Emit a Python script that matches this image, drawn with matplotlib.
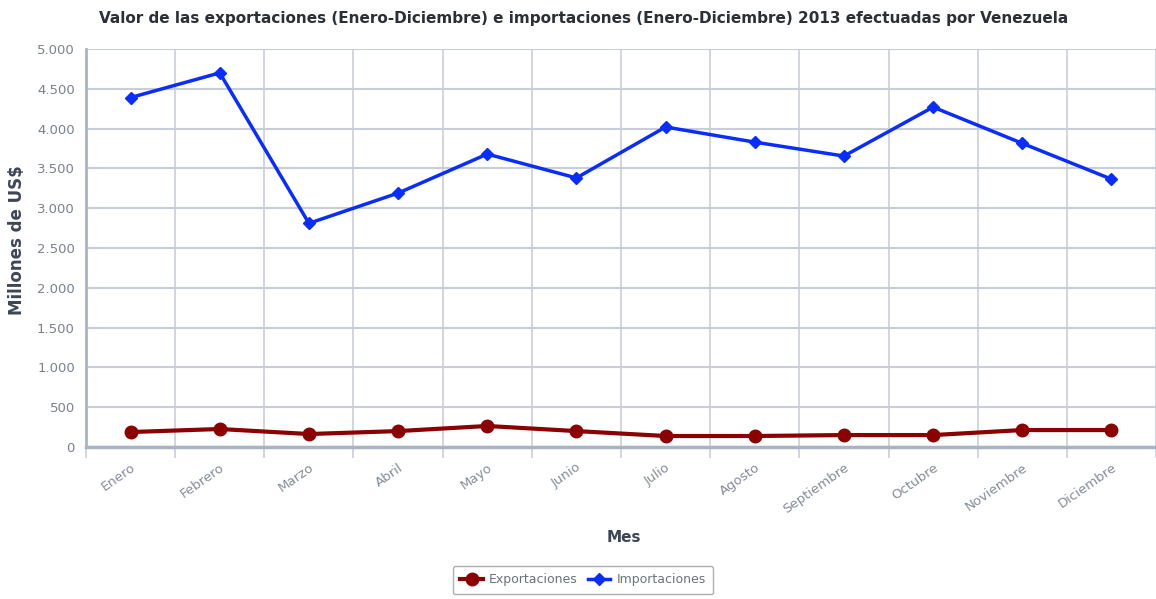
import matplotlib.pyplot as plt
import numpy as np

# datos (millones de US$)
meses = ['Enero', 'Febrero', 'Marzo', 'Abril', 'Mayo', 'Junio', 'Julio',
         'Agosto', 'Septiembre', 'Octubre', 'Noviembre', 'Diciembre']
exportaciones = [188, 226, 163, 200, 264, 200, 138, 138, 150, 150, 213, 213]
importaciones = [4390, 4700, 2810, 3190, 3680, 3380, 4020, 3830, 3655, 4270, 3815, 3365]
y_ticks = [0, 500, 1000, 1500, 2000, 2500, 3000, 3500, 4000, 4500, 5000]

W, H = 1156, 599
fig = plt.figure(figsize=(W / 100, H / 100), dpi=100)
ax = fig.add_axes([86 / W, 1 - 447 / H, (1156 - 86) / W, (447 - 49) / H])

x = np.arange(len(meses))
grid_col = '#c8ced9'
axis_col = '#a9b3c4'

ax.plot(x, exportaciones, color='#8b0000', lw=3, marker='o', ms=9,
        label='Exportaciones', zorder=3)
ax.plot(x, importaciones, color='#0a2dff', lw=2.5, marker='D', ms=6,
        label='Importaciones', zorder=3)

ax.set_xlim(-0.5, 11.44)
ax.set_ylim(0, 5000)
ax.set_yticks(y_ticks)
ax.set_yticklabels([f'{v:,}'.replace(',', '.') for v in y_ticks])
ax.set_xticks(x)
ax.set_xticklabels(meses, rotation=35, ha='right', rotation_mode='anchor')
ax.set_xticks(np.arange(-0.5, 12, 1), minor=True)

ax.grid(axis='y', color=grid_col, lw=1.5)
ax.grid(axis='x', which='minor', color=grid_col, lw=1.2)
ax.set_axisbelow(True)
ax.tick_params(axis='x', which='major', length=0, pad=10, labelcolor='#858c98', labelsize=9.5)
ax.tick_params(axis='x', which='minor', length=8, color=grid_col, width=1.2)
ax.tick_params(axis='y', length=0, pad=8, labelcolor='#7b828e', labelsize=9.5)

for s in ['top', 'right']:
    ax.spines[s].set_visible(False)
ax.spines['left'].set_color(axis_col)
ax.spines['left'].set_linewidth(2)
ax.spines['bottom'].set_color(axis_col)
ax.spines['bottom'].set_linewidth(2.5)

ax.set_ylabel('Millones de US$', fontsize=12, fontweight='bold', color='#3d4654')
ax.yaxis.set_label_coords(-60 / (1156 - 86), 0.52)
fig.text(624 / W, 1 - 538 / H, 'Mes', fontsize=11, fontweight='bold', color='#3d4654',
         ha='center', va='center')
fig.text(584 / W, 1 - 18 / H,
         'Valor de las exportaciones (Enero-Diciembre) e importaciones (Enero-Diciembre) 2013 efectuadas por Venezuela',
         fontsize=11, fontweight='bold', color='#2b2f36', ha='center', va='center')

leg = fig.legend(loc='center', bbox_to_anchor=(583 / W, 1 - 580 / H), ncol=2,
                 fontsize=9, frameon=True, fancybox=True, edgecolor='#9a9a9a',
                 handlelength=1.8, columnspacing=0.8, handletextpad=0.5,
                 borderpad=0.6)
for t in leg.get_texts():
    t.set_color('#6b7380')

fig.savefig('out.png', dpi=100)
